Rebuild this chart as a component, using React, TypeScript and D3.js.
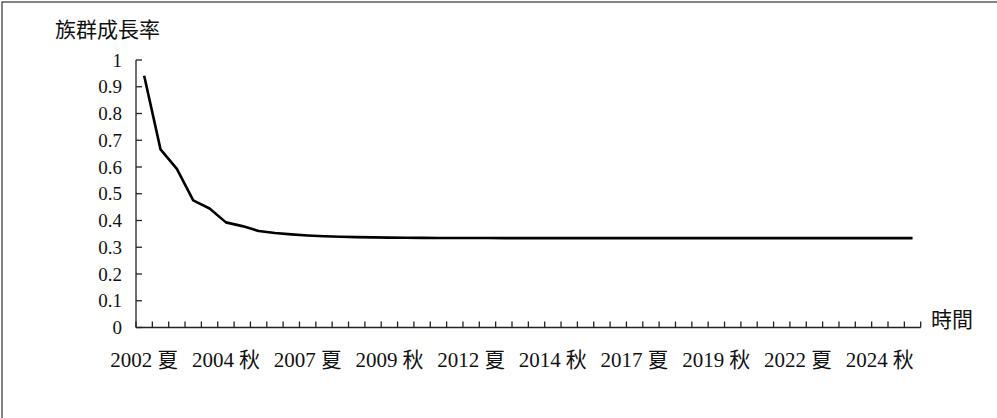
import React from "react";
import * as d3 from "d3";

const W = 997;
const H = 418;

const years: number[] = [];
const seasons = ["夏", "秋"];
const startYear = 2002;
const nYears = 24;
for (let y = 0; y < nYears; y++) {
  years.push(startYear + y);
}
const categories: string[] = years.flatMap((y) => seasons.map((s) => `${y} ${s}`));

const growth: number[] = [
  0.941, 0.666, 0.593, 0.475, 0.445, 0.393, 0.379, 0.361, 0.353, 0.348,
  0.344, 0.341, 0.339, 0.338, 0.337, 0.336, 0.3355, 0.335, 0.3348, 0.3346,
  0.3345, 0.3344, 0.3343, 0.3342, 0.3342, 0.3341, 0.3341, 0.3341, 0.334, 0.334,
  0.334, 0.334, 0.334, 0.334, 0.334, 0.334, 0.334, 0.334, 0.334, 0.334,
  0.334, 0.334, 0.334, 0.334, 0.334, 0.334, 0.334, 0.334,
];

const yTicks = [0, 0.1, 0.2, 0.3, 0.4, 0.5, 0.6, 0.7, 0.8, 0.9, 1];
const yTickLabels = ["0", "0.1", "0.2", "0.3", "0.4", "0.5", "0.6", "0.7", "0.8", "0.9", "1"];
const labelEvery = 5;
const yTitle = "族群成長率";
const xTitle = "時間";

export default function App() {
  const left = 136;
  const right = 920.7;
  const top = 60;
  const bottom = 327.5;

  const x = d3.scaleBand<string>().domain(categories).range([left, right]).padding(0);
  const y = d3.scaleLinear().domain([0, 1]).range([bottom, top]);

  const line = d3
    .line<number>()
    .x((_, i) => (x(categories[i]) as number) + x.bandwidth() / 2)
    .y((d) => y(d));

  const serif = "Liberation Serif, Times New Roman, DejaVu Serif, serif";
  const cjk = "Noto Sans CJK TC, Noto Sans CJK JP, sans-serif";
  const axisColor = "#222";

  const tickEdges = categories.map((c) => x(c) as number).concat([right]);

  return (
    <svg
      width={W}
      height={H}
      style={{ position: "fixed", left: 0, top: 0, background: "#fff" }}
    >
      <rect x={0} y={0} width={W} height={H} fill="#fff" />
      <rect x={2} y={2} width={1100} height={600} fill="none" stroke="#333" strokeWidth={1.2} />

      <text x={55} y={37} style={{ fontFamily: cjk, fontSize: 21 }} fill="#111">
        {yTitle}
      </text>

      {/* y axis */}
      <line x1={left} x2={left} y1={top} y2={bottom} stroke={axisColor} strokeWidth={1.3} />
      {yTicks.map((t, i) => (
        <g key={t}>
          <line x1={left} x2={left + 6} y1={y(t)} y2={y(t)} stroke={axisColor} strokeWidth={1.3} />
          <text
            x={122}
            y={y(t) + 6.5}
            textAnchor="end"
            style={{ fontFamily: serif, fontSize: 19 }}
            fill="#111"
          >
            {yTickLabels[i]}
          </text>
        </g>
      ))}

      {/* x axis */}
      <line x1={left} x2={right} y1={bottom} y2={bottom} stroke={axisColor} strokeWidth={1.3} />
      {tickEdges.map((e, i) => (
        <line key={i} x1={e} x2={e} y1={bottom} y2={bottom - 6} stroke={axisColor} strokeWidth={1.3} />
      ))}
      {categories.map((c, i) =>
        i % labelEvery === 0 ? (
          <text
            key={c}
            x={(x(c) as number) + x.bandwidth() / 2}
            y={366.5}
            textAnchor="middle"
            style={{ fontSize: 21 }}
            fill="#111"
          >
            <tspan style={{ fontFamily: serif }}>{c.split(" ")[0]}</tspan>
            <tspan style={{ fontFamily: cjk }} dx={5}>{c.split(" ")[1]}</tspan>
          </text>
        ) : null
      )}
      <text x={931} y={327} style={{ fontFamily: cjk, fontSize: 21 }} fill="#111">
        {xTitle}
      </text>

      <path d={line(growth) || ""} fill="none" stroke="#000" strokeWidth={2.6} strokeLinejoin="round" />
    </svg>
  );
}
